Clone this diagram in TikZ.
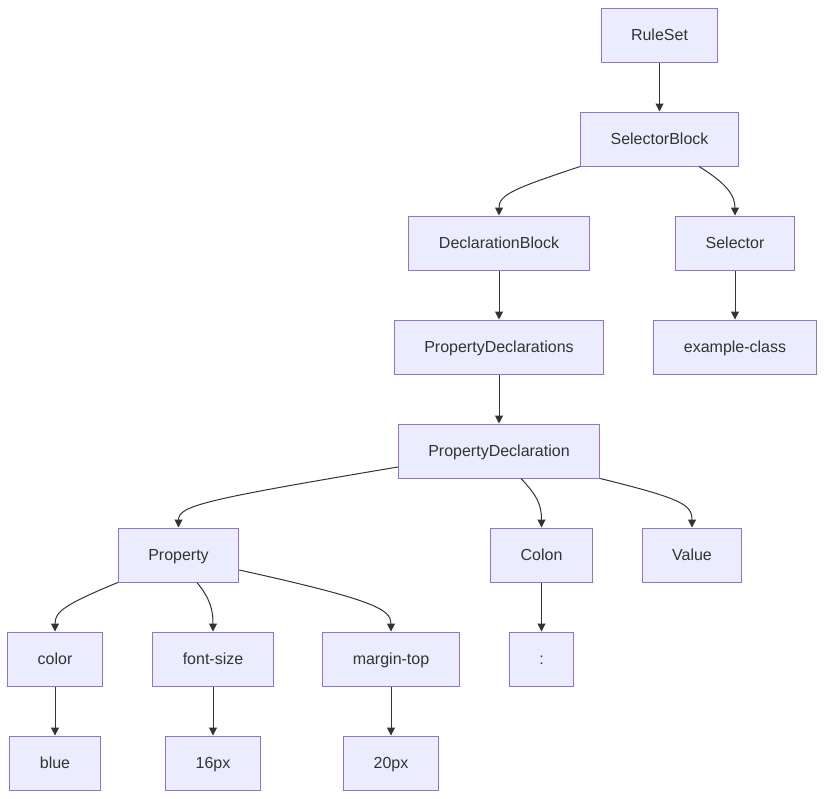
\documentclass[tikz,border=0pt]{standalone}
\usepackage{fontspec}
\setmainfont{Liberation Sans}
\usetikzlibrary{arrows.meta,calc}
\definecolor{nfill}{HTML}{ECECFF}
\definecolor{nstroke}{HTML}{9370DB}
\definecolor{ntext}{HTML}{333333}
\definecolor{eline}{HTML}{333333}
\begin{document}
\begin{tikzpicture}[x=1pt,y=-1pt,
  box/.style={draw=nstroke,fill=nfill,line width=1pt,text=ntext,
    font=\fontsize{16}{19}\selectfont,inner xsep=30pt,inner ysep=0pt,
    text height=12.5pt,text depth=2.5pt,
    minimum height=54pt,anchor=center},
  edge/.style={draw=eline,line width=1pt,-{Triangle[length=8pt,width=8pt]}}]
\useasboundingbox (0,0) rectangle (824,798);
\node[box] (rs) at (659.5,35) {RuleSet};
\node[box] (sb) at (659.5,139) {SelectorBlock};
\node[box] (db) at (499,243) {DeclarationBlock};
\node[box] (sel) at (735,243) {Selector};
\node[box] (pds) at (499,347) {PropertyDeclarations};
\node[box] (ec) at (735,347) {example-class};
\node[box] (pd) at (499,451) {PropertyDeclaration};
\node[box] (prop) at (178.5,555) {Property};
\node[box] (colon) at (541.5,555) {Colon};
\node[box] (val) at (692,555) {Value};
\node[box] (color) at (55,659) {color};
\node[box] (fs) at (213,659) {font-size};
\node[box] (mt) at (391,659) {margin-top};
\node[box] (col2) at (541.5,659) {:};
\node[box] (blue) at (55,763) {blue};
\node[box] (px16) at (213,763) {16px};
\node[box] (px20) at (391,763) {20px};

\draw[edge] (rs) -- (sb);
\draw[edge] (db) -- (pds);
\draw[edge] (pds) -- (pd);
\draw[edge] (sel) -- (ec);
\draw[edge] (colon) -- (col2);
\draw[edge] (color) -- (blue);
\draw[edge] (fs) -- (px16);
\draw[edge] (mt) -- (px20);

\draw[edge] (sb.south west) .. controls +(-66,22) and +(0,-21) .. (db.north);
\draw[edge] ([xshift=39.5pt]sb.south) .. controls +(26,16) and +(0,-21) .. (sel.north);
\draw[edge] ([yshift=-16pt]pd.west) .. controls +(-190,32) and +(0,-22) .. (prop.north);
\draw[edge] ([xshift=22pt]pd.south) .. controls +(16,17) and +(0,-23) .. (colon.north);
\draw[edge] (pd.south east) .. controls +(81,20) and +(0,-23) .. (val.north);
\draw[edge] (prop.south west) .. controls +(-53,22) and +(0,-20) .. (color.north);
\draw[edge] ([xshift=18.5pt]prop.south) .. controls +(13,16) and +(0,-22) .. (fs.north);
\draw[edge] ([yshift=-15pt]prop.east) .. controls +(136,30) and +(0,-22) .. (mt.north);
\end{tikzpicture}
\end{document}
